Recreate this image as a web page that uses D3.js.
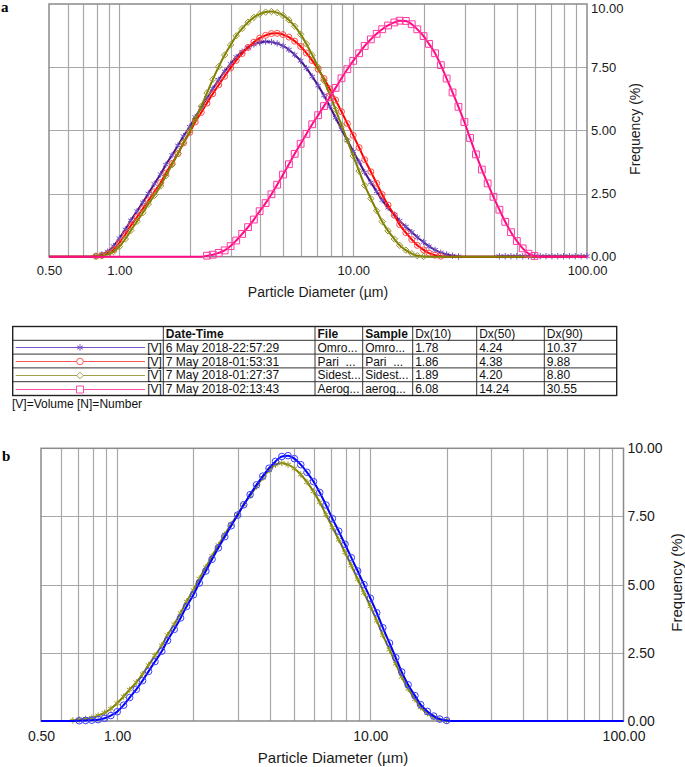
<!DOCTYPE html>
<html>
<head>
<meta charset="utf-8">
<script src="https://cdn.jsdelivr.net/npm/d3@7"></script>
<style>
  html, body { margin: 0; padding: 0; background: #fff; }
  svg { display: block; font-family: "Liberation Sans", Arial, sans-serif; }
</style>
</head>
<body>
<svg id="chart" width="685" height="767"></svg>
<script>
// particle size bins (µm), shared by every series
const sizes = [
  0.501, 0.531, 0.562, 0.596,
  0.631, 0.668, 0.708, 0.750,
  0.794, 0.841, 0.891, 0.944,
  1.00, 1.06, 1.12, 1.19,
  1.26, 1.33, 1.41, 1.50,
  1.58, 1.68, 1.78, 1.88,
  2.00, 2.11, 2.24, 2.37,
  2.51, 2.66, 2.82, 2.99,
  3.16, 3.35, 3.55, 3.76,
  3.98, 4.22, 4.47, 4.73,
  5.01, 5.31, 5.62, 5.96,
  6.31, 6.68, 7.08, 7.50,
  7.94, 8.41, 8.91, 9.44,
  10.0, 10.6, 11.2, 11.9,
  12.6, 13.3, 14.1, 15.0,
  15.8, 16.8, 17.8, 18.8,
  20.0, 21.1, 22.4, 23.7,
  25.1, 26.6, 28.2, 29.9,
  31.6, 33.5, 35.5, 37.6,
  39.8, 42.2, 44.7, 47.3,
  50.1, 53.1, 56.2, 59.6,
  63.1, 66.8, 70.8, 75.0,
  79.4, 84.1, 89.1, 94.4,
  100
];

// panel a
const omron = [
  0, 0, 0, 0,
  0, 0, 0, 0,
  0.03, 0.09, 0.2, 0.42,
  0.73, 1.08, 1.44, 1.8,
  2.15, 2.5, 2.88, 3.26,
  3.64, 4.02, 4.4, 4.77,
  5.14, 5.52, 5.9, 6.28,
  6.65, 7.0, 7.33, 7.63,
  7.9, 8.11, 8.28, 8.4,
  8.48, 8.51, 8.5, 8.44,
  8.34, 8.19, 7.99, 7.75,
  7.46, 7.13, 6.77, 6.38,
  5.95, 5.5, 5.04, 4.6,
  4.17, 3.75, 3.34, 2.94,
  2.58, 2.24, 1.94, 1.66,
  1.42, 1.19, 0.97, 0.77,
  0.58, 0.41, 0.27, 0.16,
  0.09, 0.04, 0.01, 0,
  0, 0, 0, 0,
  0, 0.02, 0.02, 0.02,
  0.02, 0.02, 0.02, 0.02,
  0.02, 0.02, 0.02, 0.02,
  0.02, 0.02, 0.02, 0.02,
  0.02
];

const pari = [
  0, 0, 0, 0,
  0, 0, 0, 0,
  0.02, 0.05, 0.12, 0.28,
  0.55, 0.88, 1.23, 1.57,
  1.9, 2.22, 2.57, 2.93,
  3.31, 3.69, 4.08, 4.5,
  4.92, 5.33, 5.71, 6.08,
  6.45, 6.8, 7.14, 7.47,
  7.77, 8.04, 8.28, 8.49,
  8.65, 8.76, 8.83, 8.84,
  8.79, 8.69, 8.53, 8.32,
  8.06, 7.76, 7.42, 7.05,
  6.64, 6.2, 5.74, 5.27,
  4.8, 4.32, 3.84, 3.36,
  2.9, 2.46, 2.04, 1.64,
  1.27, 0.95, 0.68, 0.45,
  0.27, 0.14, 0.06, 0.02,
  0, 0, 0, 0,
  0, 0, 0, 0,
  0, 0, 0, 0,
  0, 0, 0, 0,
  0, 0, 0, 0,
  0, 0, 0, 0,
  0
];

const sidestream = [
  0, 0, 0, 0,
  0, 0, 0, 0,
  0.02, 0.04, 0.09, 0.2,
  0.4, 0.7, 1.04, 1.4,
  1.74, 2.08, 2.42, 2.8,
  3.2, 3.64, 4.08, 4.52,
  4.97, 5.45, 5.95, 6.48,
  7.02, 7.52, 7.98, 8.38,
  8.74, 9.03, 9.28, 9.47,
  9.6, 9.68, 9.7, 9.66,
  9.55, 9.37, 9.12, 8.8,
  8.42, 7.98, 7.5, 6.97,
  6.41, 5.82, 5.21, 4.6,
  3.99, 3.39, 2.82, 2.3,
  1.82, 1.39, 1.02, 0.7,
  0.45, 0.26, 0.12, 0.04,
  0.01, 0, 0, 0,
  0, 0, 0, 0,
  0, 0, 0, 0,
  0, 0, 0, 0,
  0, 0, 0, 0,
  0, 0, 0, 0,
  0, 0, 0, 0,
  0
];

const aerogen = [
  0, 0, 0, 0,
  0, 0, 0, 0,
  0, 0, 0, 0,
  0, 0, 0, 0,
  0, 0, 0, 0,
  0, 0, 0, 0,
  0, 0, 0, 0.04,
  0.08, 0.15, 0.25, 0.42,
  0.64, 0.9, 1.17, 1.47,
  1.8, 2.12, 2.47, 2.85,
  3.25, 3.66, 4.07, 4.47,
  4.86, 5.24, 5.6, 5.96,
  6.31, 6.68, 7.06, 7.42,
  7.75, 8.05, 8.34, 8.6,
  8.82, 9.0, 9.15, 9.27,
  9.34, 9.33, 9.2, 9.0,
  8.73, 8.42, 8.05, 7.58,
  7.05, 6.5, 5.93, 5.33,
  4.7, 4.05, 3.45, 2.9,
  2.37, 1.86, 1.38, 0.97,
  0.62, 0.33, 0.12, 0.03,
  0, 0, 0, 0,
  0, 0, 0, 0,
  0
];

// panel b
const blueRun = [
  0, 0, 0, 0,
  0, 0, 0.01, 0.02,
  0.03, 0.05, 0.1, 0.2,
  0.34, 0.58, 0.86, 1.16,
  1.48, 1.82, 2.18, 2.56,
  2.95, 3.36, 3.78, 4.2,
  4.63, 5.06, 5.5, 5.93,
  6.35, 6.76, 7.16, 7.55,
  7.93, 8.3, 8.66, 8.98,
  9.27, 9.52, 9.7, 9.73,
  9.62, 9.4, 9.12, 8.78,
  8.38, 7.92, 7.42, 6.96,
  6.48, 5.99, 5.5, 5.0,
  4.5, 3.97, 3.42, 2.86,
  2.32, 1.8, 1.33, 0.93,
  0.6, 0.35, 0.18, 0.07,
  0.02, 0, 0, 0,
  0, 0, 0, 0,
  0, 0, 0, 0,
  0, 0, 0, 0,
  0, 0, 0, 0,
  0, 0, 0, 0,
  0, 0, 0, 0,
  0
];

const oliveRun = [
  0, 0, 0, 0,
  0, 0.02, 0.05, 0.08,
  0.12, 0.2, 0.3, 0.45,
  0.65, 0.9, 1.15, 1.42,
  1.72, 2.05, 2.4, 2.77,
  3.15, 3.55, 3.96, 4.38,
  4.8, 5.22, 5.64, 6.05,
  6.45, 6.84, 7.22, 7.58,
  7.93, 8.27, 8.6, 8.92,
  9.2, 9.4, 9.46, 9.4,
  9.26, 9.04, 8.76, 8.42,
  8.02, 7.57, 7.1, 6.65,
  6.18, 5.7, 5.2, 4.7,
  4.2, 3.68, 3.15, 2.62,
  2.1, 1.62, 1.18, 0.8,
  0.5, 0.28, 0.13, 0.05,
  0.01, 0, 0, 0,
  0, 0, 0, 0,
  0, 0, 0, 0,
  0, 0, 0, 0,
  0, 0, 0, 0,
  0, 0, 0, 0,
  0, 0, 0, 0,
  0
];

const xTickValues = [0.5, 1, 10, 100];
const yTickValues = [0, 2.5, 5, 7.5, 10];
const xGridValues = [0.6, 0.7, 0.8, 0.9, 1, 2, 3, 4, 5, 6, 7, 8, 9, 10, 20, 30, 40, 50, 60, 70, 80, 90];
const yGridValues = [2.5, 5, 7.5];

// table under panel a
const tableHeaders = ["", "Date-Time", "File", "Sample", "Dx(10)", "Dx(50)", "Dx(90)"];
const dateTimes = ["6 May 2018-22:57:29", "7 May 2018-01:53:31", "7 May 2018-01:27:37", "7 May 2018-02:13:43"];
const fileNames = ["Omro...", "Pari  ...", "Sidest...", "Aerog..."];
const sampleNames = ["Omro...", "Pari  ...", "Sidest...", "aerog..."];
const dx10 = ["1.78", "1.86", "1.89", "6.08"];
const dx50 = ["4.24", "4.38", "4.20", "14.24"];
const dx90 = ["10.37", "9.88", "8.80", "30.55"];

const svg = d3.select("#chart");

function markerPath(shape, r) {
  if (shape === "star") {
    const a = r * 0.87, b = r * 0.5;
    return `M0,${-r}L0,${r}M${-a},${-b}L${a},${b}M${-a},${b}L${a},${-b}`;
  }
  if (shape === "diamond") return `M0,${-r}L${r},0L0,${r}L${-r},0Z`;
  if (shape === "square") return `M${-r},${-r}h${2 * r}v${2 * r}h${-2 * r}Z`;
  return d3.symbol(d3.symbolCircle, Math.PI * r * r)();
}

const seriesA = [
  { values: omron, line: "#47148e", mark: "#7050c4", shape: "star", r: 3.2, legend: "#7a55cc" },
  { values: pari, line: "#ff0000", mark: "#ff4a4a", shape: "circle", r: 3, legend: "#ff5a5a" },
  { values: sidestream, line: "#808000", mark: "#94942a", shape: "diamond", r: 3.2, legend: "#a3a04a" },
  { values: aerogen, line: "#ff0a84", mark: "#ff3aa0", shape: "square", r: 3.4, legend: "#ff4fae" }
];

const seriesB = [
  { values: oliveRun, line: "#808000", mark: "#9a9a26", shape: "star", r: 3.2 },
  { values: blueRun, line: "#0000ff", mark: "#3c3cff", shape: "circle", r: 3.3 }
];

function drawChart(cfg) {
  const x = d3.scaleLog().domain([0.5, 100]).range([cfg.left, cfg.right]);
  const y = d3.scaleLinear().domain([0, 10]).range([cfg.bottom, cfg.top]);
  const g = svg.append("g");

  // grid
  g.append("g")
    .selectAll("line")
    .data(xGridValues)
    .join("line")
    .attr("x1", (d) => Math.round(x(d)) + 0.5)
    .attr("x2", (d) => Math.round(x(d)) + 0.5)
    .attr("y1", cfg.top)
    .attr("y2", cfg.bottom)
    .attr("stroke", "#a8a8a8")
    .attr("stroke-width", 1.2);

  g.append("g")
    .selectAll("line")
    .data(yGridValues)
    .join("line")
    .attr("x1", cfg.left)
    .attr("x2", cfg.right)
    .attr("y1", (d) => Math.round(y(d)) + 0.5)
    .attr("y2", (d) => Math.round(y(d)) + 0.5)
    .attr("stroke", "#a8a8a8")
    .attr("stroke-width", 1.2);

  // frame
  g.append("rect")
    .attr("x", cfg.left)
    .attr("y", cfg.top)
    .attr("width", cfg.right - cfg.left)
    .attr("height", cfg.bottom - cfg.top)
    .attr("fill", "none")
    .attr("stroke", "#8a8a8a")
    .attr("stroke-width", 1.5);

  const line = d3
    .line()
    .x((d, i) => x(sizes[i]))
    .y((d) => y(d))
    .curve(d3.curveMonotoneX);

  cfg.series.forEach((s) => {
    g.append("path")
      .attr("d", line(s.values))
      .attr("fill", "none")
      .attr("stroke", s.line)
      .attr("stroke-width", 2);

    const pts = s.values
      .map((v, i) => ({ v, size: sizes[i] }))
      .filter((d) => d.v > 0);

    g.append("g")
      .selectAll("path")
      .data(pts)
      .join("path")
      .attr("transform", (d) => `translate(${x(d.size)},${y(d.v)})`)
      .attr("d", markerPath(s.shape, s.r))
      .attr("fill", "none")
      .attr("stroke", s.mark)
      .attr("stroke-width", 1);
  });

  // x axis labels
  const xAxis = d3
    .axisBottom(x)
    .tickValues(xTickValues)
    .tickSize(0)
    .tickPadding(0)
    .tickFormat(d3.format(".2f"));

  const xa = g.append("g")
    .attr("transform", `translate(0,${cfg.xTickY})`)
    .call(xAxis);
  xa.select(".domain").remove();
  xa.selectAll("text")
    .attr("dy", 0)
    .attr("y", 0)
    .attr("fill", "#1a1a1a")
    .attr("font-size", cfg.tickFont)
    .attr("font-family", "Liberation Sans, Arial, sans-serif");

  // y axis labels on the right
  const yAxis = d3
    .axisRight(y)
    .tickValues(yTickValues)
    .tickSize(0)
    .tickPadding(4)
    .tickFormat(d3.format(".2f"));

  const ya = g.append("g")
    .attr("transform", `translate(${cfg.right},0)`)
    .call(yAxis);
  ya.select(".domain").remove();
  ya.selectAll("text")
    .attr("fill", "#1a1a1a")
    .attr("font-size", cfg.tickFont)
    .attr("font-family", "Liberation Sans, Arial, sans-serif")
    .attr("y", (d) => (y(d) < 8 ? 8 - y(d) : 0));

  g.append("text")
    .attr("x", cfg.xTitleX)
    .attr("y", cfg.xTitleY)
    .attr("text-anchor", "middle")
    .attr("font-size", cfg.titleFont)
    .attr("fill", "#1a1a1a")
    .text("Particle Diameter (µm)");

  g.append("text")
    .attr("transform", `translate(${cfg.yTitleX},${cfg.yTitleY}) rotate(-90)`)
    .attr("text-anchor", "middle")
    .attr("dy", "0.35em")
    .attr("font-size", cfg.titleFont)
    .attr("fill", "#1a1a1a")
    .text("Frequency (%)");

  g.append("text")
    .attr("x", cfg.tagX)
    .attr("y", cfg.tagY)
    .attr("font-family", "Liberation Serif, Times New Roman, serif")
    .attr("font-weight", "bold")
    .attr("font-size", 15)
    .attr("fill", "#000")
    .text(cfg.tag);
}

drawChart({
  left: 49, right: 587, top: 4, bottom: 256.7,
  series: seriesA,
  xTickY: 275, tickFont: 13, titleFont: 14,
  xTitleX: 318, xTitleY: 297,
  yTitleX: 635.5, yTitleY: 129,
  tag: "a", tagX: 1, tagY: 12
});

drawChart({
  left: 41, right: 623.5, top: 448.3, bottom: 721,
  series: seriesB,
  xTickY: 741, tickFont: 14, titleFont: 15,
  xTitleX: 333, xTitleY: 763,
  yTitleX: 676.5, yTitleY: 582.5,
  tag: "b", tagX: 2, tagY: 461
});

// ---- results table ----
const colX = [12.7, 163.3, 315, 362.7, 412.7, 476.7, 544.3, 616.7];
const rowY = [326.5, 340.3, 354.1, 367.9, 381.7, 395.5];
const table = svg.append("g").attr("font-size", 12).attr("fill", "#111");

colX.slice(1, -1).forEach((cx) => {
  table.append("line")
    .attr("x1", cx).attr("x2", cx)
    .attr("y1", rowY[0]).attr("y2", rowY[rowY.length - 1])
    .attr("stroke", "#333").attr("stroke-width", 1);
});
rowY.slice(1, -1).forEach((ry) => {
  table.append("line")
    .attr("x1", colX[0]).attr("x2", colX[colX.length - 1])
    .attr("y1", ry).attr("y2", ry)
    .attr("stroke", "#333").attr("stroke-width", 1);
});
table.append("rect")
  .attr("x", colX[0]).attr("y", rowY[0])
  .attr("width", colX[colX.length - 1] - colX[0])
  .attr("height", rowY[rowY.length - 1] - rowY[0])
  .attr("fill", "none").attr("stroke", "#222").attr("stroke-width", 1.4);

const textBase = (r) => (rowY[r] + rowY[r + 1]) / 2 + 4.5;

tableHeaders.forEach((h, c) => {
  table.append("text")
    .attr("x", colX[c] + 2.5)
    .attr("y", textBase(0))
    .attr("font-weight", c <= 3 ? "bold" : "normal")
    .text(h);
});

const rowCols = [dateTimes, fileNames, sampleNames, dx10, dx50, dx90];
seriesA.forEach((s, r) => {
  const cy = (rowY[r + 1] + rowY[r + 2]) / 2;
  table.append("line")
    .attr("x1", 15.7).attr("x2", 145)
    .attr("y1", Math.round(cy) + 0.5).attr("y2", Math.round(cy) + 0.5)
    .attr("stroke", s.legend).attr("stroke-width", 1);
  table.append("path")
    .attr("transform", `translate(80,${Math.round(cy) + 0.5})`)
    .attr("d", markerPath(s.shape, s.shape === "square" ? 3.5 : 3.3))
    .attr("fill", "#fff")
    .attr("stroke", s.legend)
    .attr("stroke-width", 1);
  table.append("text")
    .attr("x", colX[1] - 1.5)
    .attr("y", textBase(r + 1))
    .attr("text-anchor", "end")
    .text("[V]");
  rowCols.forEach((col, c) => {
    table.append("text")
      .attr("x", colX[c + 1] + 2.5)
      .attr("y", textBase(r + 1))
      .style("white-space", "pre")
      .text(col[r]);
  });
});

table.append("text")
  .attr("x", 12)
  .attr("y", 408)
  .text("[V]=Volume [N]=Number");
</script>
</body>
</html>
